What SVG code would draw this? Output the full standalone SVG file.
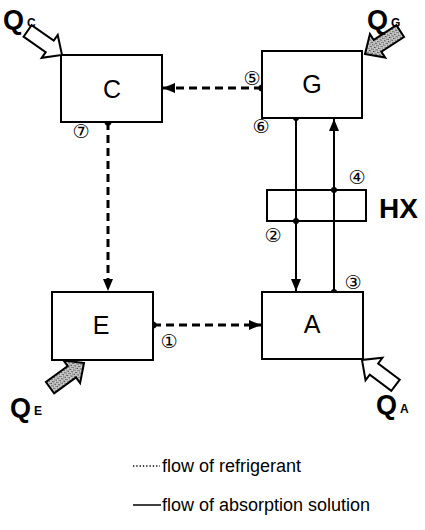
<svg xmlns="http://www.w3.org/2000/svg" width="425" height="530" viewBox="0 0 425 530">
<defs>
<style>
.box{fill:#fff;stroke:#000;stroke-width:2}
.lbl{font-family:"Liberation Sans",Arial,sans-serif;font-size:25px;fill:#000;text-anchor:middle}
.q{font-family:"Liberation Sans",Arial,sans-serif;font-weight:bold;fill:#000}
.num{font-family:"DejaVu Sans",sans-serif;font-size:19px;fill:#000;text-anchor:middle}
.dash{fill:none;stroke:#000;stroke-width:3;stroke-dasharray:8 5}
.sol{fill:none;stroke:#000;stroke-width:2}
.leg{font-family:"Liberation Sans",Arial,sans-serif;font-size:18px;fill:#000}
.hollow{fill:#fff;stroke:#000;stroke-width:2;stroke-linejoin:miter}
.shaded{fill:url(#stip);stroke:#000;stroke-width:2}
</style>
<pattern id="stip" width="3" height="3" patternUnits="userSpaceOnUse">
<rect width="3" height="3" fill="#c8c8c8"/>
<rect width="1" height="1" fill="#333"/>
<rect x="2" y="2" width="1" height="1" fill="#555"/>
</pattern>
<marker id="ah" viewBox="0 0 12 10" refX="12" refY="5" markerWidth="12" markerHeight="10" markerUnits="userSpaceOnUse" orient="auto">
<path d="M0,0 L12,5 L0,10 Z" fill="#000"/>
</marker>
<polygon id="barrow" points="0,0 -15,-14 -15,-7 -42,-7 -42,7 -15,7 -15,14"/>
</defs>

<g id="connectors">
<line class="dash" x1="262" y1="88" x2="163" y2="88" marker-end="url(#ah)"/>
<line class="dash" x1="108" y1="122" x2="108" y2="291" marker-end="url(#ah)"/>
<line class="dash" x1="153" y1="325" x2="261" y2="325" marker-end="url(#ah)"/>
<line class="sol" x1="296" y1="118" x2="296" y2="291" marker-end="url(#ah)"/>
<line class="sol" x1="334" y1="292" x2="334" y2="119" marker-end="url(#ah)"/>
<circle cx="262" cy="88" r="3.5"/>
<circle cx="108" cy="122" r="3.5"/>
<circle cx="153" cy="325" r="3.5"/>
<circle cx="296" cy="118" r="3"/>
<circle cx="296" cy="221" r="3"/>
<circle cx="334" cy="190" r="3"/>
<circle cx="334" cy="292" r="3"/>
</g>

<g id="node-C">
<rect class="box" x="61" y="55" width="101" height="67"/>
<text class="lbl" x="112" y="98">C</text>
</g>
<g id="node-G">
<rect class="box" x="262" y="51" width="100" height="67"/>
<text class="lbl" x="312" y="93">G</text>
</g>
<g id="node-E">
<rect class="box" x="52" y="292" width="101" height="68"/>
<text class="lbl" x="101" y="334">E</text>
</g>
<g id="node-A">
<rect class="box" x="262" y="292" width="101" height="67"/>
<text class="lbl" x="312" y="333">A</text>
</g>
<g id="node-HX">
<rect class="box" x="267" y="190" width="99" height="31" style="fill:none"/>
<line class="sol" x1="296" y1="190" x2="296" y2="221"/>
<line class="sol" x1="334" y1="190" x2="334" y2="221"/>
<text class="q" x="379" y="218" font-size="28">HX</text>
</g>

<g id="labels">
<text class="num" x="252" y="85">⑤</text>
<text class="num" x="261" y="133">⑥</text>
<text class="num" x="81" y="138">⑦</text>
<text class="num" x="357" y="184">④</text>
<text class="num" x="273" y="242">②</text>
<text class="num" x="353" y="289">③</text>
<text class="num" x="169" y="348">①</text>
</g>

<g id="heat-QC">
<use href="#barrow" class="hollow" transform="translate(62,55) rotate(35)"/>
<text class="q" x="3" y="29" font-size="27">Q</text>
<text class="q" x="27" y="27" font-size="12">C</text>
</g>
<g id="heat-QG">
<use href="#barrow" class="shaded" transform="translate(365,54) rotate(147)"/>
<text class="q" x="367" y="29" font-size="27">Q</text>
<text class="q" x="391" y="27" font-size="12">G</text>
</g>
<g id="heat-QE">
<use href="#barrow" class="shaded" transform="translate(84,363) rotate(-36)"/>
<text class="q" x="10" y="417" font-size="27">Q</text>
<text class="q" x="34" y="415" font-size="12">E</text>
</g>
<g id="heat-QA">
<use href="#barrow" class="hollow" transform="translate(362,360) rotate(217)"/>
<text class="q" x="376" y="414" font-size="27">Q</text>
<text class="q" x="400" y="413" font-size="12">A</text>
</g>

<g id="legend">
<line x1="133" y1="466" x2="160" y2="466" stroke="#000" stroke-width="1.3" stroke-dasharray="1.3 2"/>
<text class="leg" x="162" y="472">flow of refrigerant</text>
<line x1="133" y1="505" x2="161" y2="505" stroke="#000" stroke-width="1.5"/>
<text class="leg" x="162" y="511">flow of absorption solution</text>
</g>
</svg>
